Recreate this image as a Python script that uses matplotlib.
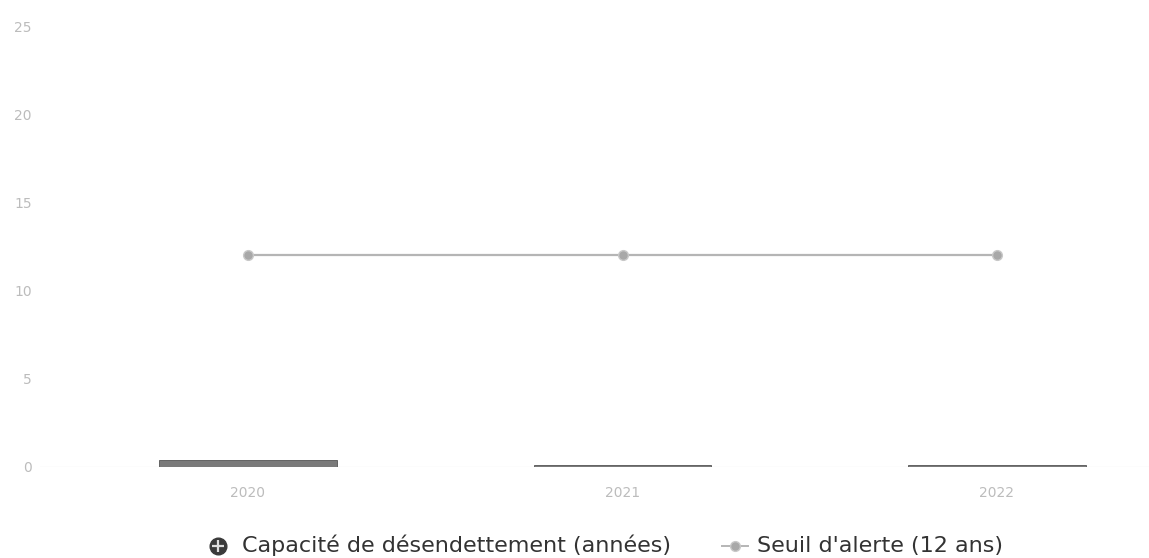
import matplotlib.pyplot as plt
from matplotlib.lines import Line2D

# Données
annees = ['2020', '2021', '2022']
capacite = [0.4, 0.12, 0.12]
seuil = [12, 12, 12]
yticks = [0, 5, 10, 15, 20, 25]

W, H = 1149, 558
fig = plt.figure(figsize=(W / 100, H / 100), dpi=100)
ax = fig.add_axes([40 / W, 1 - 467 / H, 1109 / W, 441 / H])

x = range(len(annees))
ax.bar(x, capacite, width=0.475, color='#7a7a7a', edgecolor='#555555', linewidth=0.6, zorder=2)
ax.plot(x, seuil, color='#b5b5b5', linewidth=1.6, marker='o', markersize=7,
        markerfacecolor='#a8a8a8', markeredgecolor='#c8c8c8', zorder=3)

ax.set_xlim(-208 / 374.5, 2 + 152 / 374.5)
ax.set_ylim(0, 25)
ax.set_yticks(yticks)
ax.set_yticklabels([str(t) for t in yticks])
ax.set_xticks(list(x))
ax.set_xticklabels(annees)
ax.tick_params(axis='both', length=0, labelsize=10, labelcolor='#bcbcbc')
ax.tick_params(axis='y', pad=6)
ax.tick_params(axis='x', pad=14)
for s in ax.spines.values():
    s.set_visible(False)
ax.axhline(0, color='#f2f2f2', linewidth=1, zorder=1)

# légende posée à la main sous le graphique
my = 1 - 546 / H      # centre des pastilles
by = 1 - 552 / H      # ligne de base du texte
fig.add_artist(Line2D([218 / W], [my], linestyle='none', marker='o', markersize=12,
                      markerfacecolor='#3a3a3a', markeredgecolor='#3a3a3a'))
fig.add_artist(Line2D([218 / W], [my], linestyle='none', marker='+', markersize=8,
                      markeredgewidth=1.6, color='#dddddd'))
fig.text(242 / W, by, 'Capacité de désendettement (années)', fontsize=16,
         color='#333333', va='baseline', ha='left')

fig.add_artist(Line2D([722 / W, 748 / W], [my, my], color='#b5b5b5', linewidth=1.4))
fig.add_artist(Line2D([735 / W], [my], linestyle='none', marker='o', markersize=7,
                      markerfacecolor='#a8a8a8', markeredgecolor='#c8c8c8'))
fig.text(757 / W, by, "Seuil d'alerte (12 ans)", fontsize=16,
         color='#333333', va='baseline', ha='left')

fig.savefig('out.png', dpi=100)
